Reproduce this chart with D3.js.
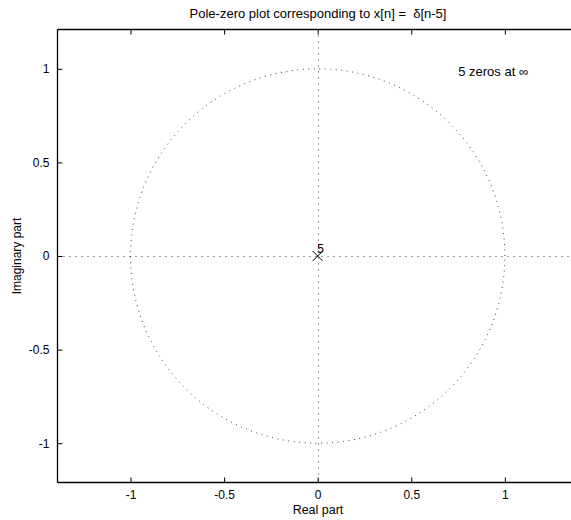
<!DOCTYPE html>
<html>
<head>
<meta charset="utf-8">
<script src="https://cdn.jsdelivr.net/npm/d3@7"></script>
<style>
  html, body { margin: 0; padding: 0; background: #fff; }
  svg { display: block; font-family: "Liberation Sans", Arial, sans-serif; }
</style>
</head>
<body>
<svg id="chart" width="571" height="520"></svg>
<script>
// Pole-zero data for x[n] = delta[n-5]: a 5th-order pole at the origin
const polesRe = [0];
const polesIm = [0];
const poleMultiplicity = ["5"];
const xTicks = [-1, -0.5, 0, 0.5, 1];
const yTicks = [-1, -0.5, 0, 0.5, 1];
const xTickLabels = ["-1", "-0.5", "0", "0.5", "1"];
const yTickLabels = ["-1", "-0.5", "0", "0.5", "1"];
const xDomain = [-1.39, 1.39];
const yDomain = [-1.21, 1.21];
const titleText = "Pole-zero plot corresponding to x[n] =  \u03b4[n-5]";
const noteText = "5 zeros at \u221e";
const notePos = [0.74, 1.0];

const svg = d3.select("#chart");
const plotLeft = 57.5, plotTop = 29.5, plotBottom = 482.5;
const plotH = plotBottom - plotTop;
const unit = plotH / (yDomain[1] - yDomain[0]);
const plotRight = plotLeft + unit * (xDomain[1] - xDomain[0]);

const x = d3.scaleLinear().domain(xDomain).range([plotLeft, plotRight]);
const y = d3.scaleLinear().domain(yDomain).range([plotBottom, plotTop]);

const dotted = { stroke: "#000", width: 1, dash: "1,5" };

// unit circle
const circ = d3.range(0, 361, 1).map(a => [Math.cos(a * Math.PI / 180), Math.sin(a * Math.PI / 180)]);
svg.append("path")
  .attr("d", d3.line().x(d => x(d[0])).y(d => y(d[1]))(circ))
  .attr("fill", "none")
  .attr("stroke", dotted.stroke)
  .attr("stroke-width", dotted.width)
  .attr("stroke-dasharray", "1,4.5")
  .attr("opacity", 0.75);

// real and imaginary axis lines
svg.append("line")
  .attr("x1", x(xDomain[0])).attr("x2", x(xDomain[1]))
  .attr("y1", Math.round(y(0)) + 0.5).attr("y2", Math.round(y(0)) + 0.5)
  .attr("stroke", dotted.stroke).attr("stroke-width", 1)
  .attr("stroke-dasharray", dotted.dash).attr("opacity", 0.75);
svg.append("line")
  .attr("x1", Math.round(x(0)) + 0.5).attr("x2", Math.round(x(0)) + 0.5)
  .attr("y1", y(yDomain[1])).attr("y2", y(yDomain[0]))
  .attr("stroke", dotted.stroke).attr("stroke-width", 1)
  .attr("stroke-dasharray", dotted.dash).attr("opacity", 0.75);

// poles (x markers)
const poles = polesRe.map((re, i) => ({ re, im: polesIm[i], m: poleMultiplicity[i] }));
const s = 5;
const pg = svg.append("g");
poles.forEach(p => {
  const cx = x(p.re), cy = y(p.im);
  pg.append("path")
    .attr("d", `M${cx - s},${cy - s}L${cx + s},${cy + s}M${cx - s},${cy + s}L${cx + s},${cy - s}`)
    .attr("stroke", "#000").attr("stroke-width", 1).attr("fill", "none");
  pg.append("text")
    .attr("x", cx - 0.5).attr("y", cy - 3.5)
    .attr("font-size", 12).attr("fill", "#000")
    .text(p.m);
});

// axes frame
const frame = svg.append("g").attr("stroke", "#000").attr("stroke-width", 1.3).attr("fill", "none");
frame.append("line").attr("x1", plotLeft).attr("x2", plotRight + 2).attr("y1", plotTop).attr("y2", plotTop);
frame.append("line").attr("x1", plotLeft).attr("x2", plotRight + 2).attr("y1", plotBottom).attr("y2", plotBottom);
frame.append("line").attr("x1", plotLeft).attr("x2", plotLeft).attr("y1", plotTop).attr("y2", plotBottom);
frame.append("line").attr("x1", plotRight).attr("x2", plotRight).attr("y1", plotTop).attr("y2", plotBottom);

// axes with ticks pointing inward
const xAxisB = d3.axisBottom(x).tickValues(xTicks).tickSize(-5).tickPadding(8)
  .tickFormat((d, i) => xTickLabels[i]);
const gxb = svg.append("g").attr("transform", `translate(0,${plotBottom})`).call(xAxisB);
const xAxisT = d3.axisTop(x).tickValues(xTicks).tickSize(-5).tickFormat("");
const gxt = svg.append("g").attr("transform", `translate(0,${plotTop})`).call(xAxisT);
const yAxisL = d3.axisLeft(y).tickValues(yTicks).tickSize(-5).tickPadding(8)
  .tickFormat((d, i) => yTickLabels[i]);
const gyl = svg.append("g").attr("transform", `translate(${plotLeft},0)`).call(yAxisL);
const yAxisR = d3.axisRight(y).tickValues(yTicks).tickSize(-5).tickFormat("");
const gyr = svg.append("g").attr("transform", `translate(${plotRight},0)`).call(yAxisR);

[gxb, gxt, gyl, gyr].forEach(g => {
  g.select(".domain").remove();
  g.selectAll(".tick line").attr("stroke", "#000").attr("stroke-width", 1);
  g.selectAll(".tick text").attr("font-size", 12).attr("fill", "#000")
    .attr("font-family", "Liberation Sans, Arial, sans-serif");
});

// title and axis labels
svg.append("text")
  .attr("x", 318).attr("y", 18)
  .attr("text-anchor", "middle").attr("font-size", 13).attr("fill", "#000")
  .style("white-space", "pre")
  .text(titleText);
svg.append("text")
  .attr("x", 318).attr("y", 514)
  .attr("text-anchor", "middle").attr("font-size", 12.5).attr("fill", "#000")
  .text("Real part");
svg.append("text")
  .attr("transform", `translate(21,${(plotTop + plotBottom) / 2}) rotate(-90)`)
  .attr("text-anchor", "middle").attr("font-size", 12).attr("fill", "#000")
  .text("Imaginary part");

// annotation
svg.append("text")
  .attr("x", x(notePos[0]) + 2).attr("y", y(notePos[1]) + 7)
  .attr("font-size", 13).attr("fill", "#000")
  .text(noteText);
</script>
</body>
</html>
